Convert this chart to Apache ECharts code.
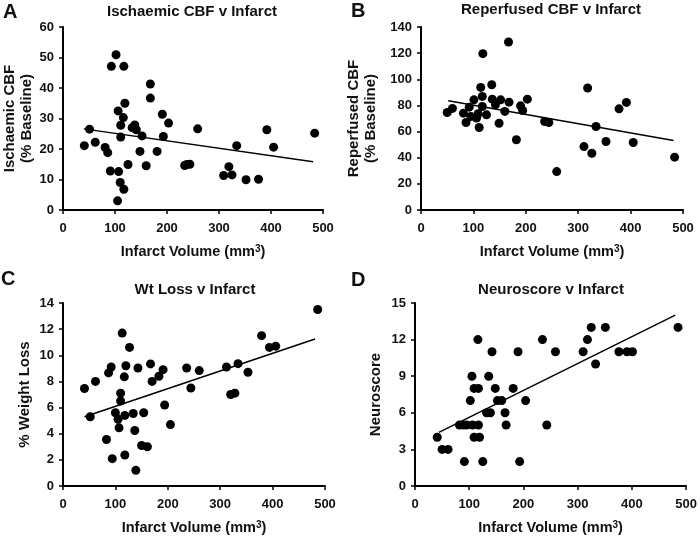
<!DOCTYPE html>
<html><head><meta charset="utf-8">
<script src="https://cdn.jsdelivr.net/npm/echarts@6/dist/echarts.min.js"></script>
<style>html,body{margin:0;padding:0;background:#fff}#c{width:700px;height:537px}</style>
</head><body><div id="c"></div>
<script>
// Panel A: Ischaemic CBF v Infarct
const volA = [41,51,62,81,86,91,93,102,105,107,106,111,111,110,116,117,117,119,125,133,138,141,148,152,160,168,168,181,191,193,203,234,238,244,259,309,319,325,334,352,376,392,405,484];
const ischCBF = [21.1,26.5,22.2,20.5,18.8,12.8,47.1,50.9,3,12.6,32.5,27.8,23.9,9,30.3,6.8,47.1,35,14.9,27,27.9,26.3,19.2,24.3,14.5,36.7,41.3,19.2,31.4,24.1,28.5,14.6,14.9,15,26.6,11.3,14.2,11.5,21.1,9.9,10.1,26.3,20.6,25.2];
const trendA = [[40,26.6],[481,15.8]];
// Panel B: Reperfused CBF v Infarct
const volB = [50,60,81,86,92,95,101,106,109,111,114,117,117,118,125,135,136,142,152,149,160,167,168,182,190,194,203,236,244,259,311,318,326,334,353,378,392,405,484];
const repCBF = [74.6,77.7,74.1,66.9,78.7,71.5,84.3,70.3,73.6,63.1,93.8,86.9,79.2,119.6,72.8,95.8,84.8,80.5,84.3,66.4,75.4,128.5,82.5,53.7,79.7,76.1,84.8,67.7,66.9,29.4,48.5,93.3,43.4,63.9,52.4,77.4,82.3,51.6,40.4];
const trendB = [[52,83.5],[482,53.2]];
// Panel C: Wt Loss v Infarct
const volC = [41,52,62,83,87,92,94,100,105,107,110,110,113,117,118,118,120,127,134,137,139,143,150,154,161,167,170,183,191,194,205,236,244,260,312,320,328,334,353,379,394,406,486];
const wtLoss = [7.46,5.3,8.0,3.56,8.65,9.1,2.09,5.6,5.1,4.45,6.5,7.1,11.7,8.35,5.4,2.37,9.2,10.6,5.55,4.25,1.2,9.03,3.1,5.6,3.0,9.34,8.0,8.4,8.9,6.2,4.7,9.03,7.5,8.83,9.1,7.0,7.1,9.36,8.7,11.5,10.6,10.7,13.5];
const trendC = [[41,5.3],[481,11.25]];
// Panel D: Neuroscore v Infarct
const volD = [41,50,61,82,89,91,95,102,105,106,109,109,116,117,117,119,125,132,136,139,142,148,152,160,166,168,181,190,193,204,235,243,259,310,318,325,333,351,376,391,401,485];
const neuro = [4,3,3,5,5,2,5,7,9,5,4,8,12,5,8,4,2,6,9,6,11,8,7,7,6,5,8,11,2,7,12,5,11,11,12,13,10,13,11,11,11,13];
const trendD = [[44,4.4],[480,14.0]];

const FONT = '"Liberation Sans", Arial, sans-serif';
const pairs = (xs, ys) => xs.map((x, i) => [x, ys[i]]);

function xAx(idx) {
  return {
    gridIndex: idx, type: 'value', min: 0, max: 500, interval: 100,
    name: 'Infarct Volume (mm{s|3})', nameLocation: 'middle', nameGap: 34,
    nameTextStyle: { fontFamily: FONT, fontWeight: 'bold', fontSize: 14.5, color: '#111',
      rich: { s: { fontFamily: FONT, fontWeight: 'bold', fontSize: 10, verticalAlign: 'top', color: '#111' } } },
    axisLine: { show: true, lineStyle: { color: '#000', width: 2 } },
    axisTick: { show: true, inside: false, length: 4, lineStyle: { color: '#000', width: 1.5 } },
    axisLabel: { fontFamily: FONT, fontWeight: 'bold', fontSize: 13, color: '#111', margin: 12 },
    splitLine: { show: false }
  };
}
function yAx(idx, max, interval, name, gap) {
  return {
    gridIndex: idx, type: 'value', min: 0, max: max, interval: interval,
    name: name, nameLocation: 'middle', nameGap: gap,
    nameTextStyle: { fontFamily: FONT, fontWeight: 'bold', fontSize: 15, color: '#111', lineHeight: 17 },
    axisLine: { show: true, lineStyle: { color: '#000', width: 2 } },
    axisTick: { show: true, inside: false, length: 4, lineStyle: { color: '#000', width: 1.5 } },
    axisLabel: { fontFamily: FONT, fontWeight: 'bold', fontSize: 13, color: '#111', margin: 9 },
    splitLine: { show: false }
  };
}
function scat(idx, data) {
  return { type: 'scatter', xAxisIndex: idx, yAxisIndex: idx, data: data, symbolSize: 9,
    itemStyle: { color: '#000', opacity: 1 }, silent: true, z: 3 };
}
function trend(idx, data) {
  return { type: 'line', xAxisIndex: idx, yAxisIndex: idx, data: data, showSymbol: false,
    lineStyle: { color: '#000', width: 1.5 }, silent: true, z: 2 };
}
function txt(t, x, y, size, align) {
  return { type: 'text', x: x, y: y, style: { text: t, font: 'bold ' + size + 'px ' + FONT,
    fill: '#111', align: align || 'center', verticalAlign: 'middle' } };
}

const chart = echarts.init(document.getElementById('c'), null, { renderer: 'canvas' });
chart.setOption({
  animation: false,
  backgroundColor: '#fff',
  grid: [
    { left: 61, top: 27, width: 262, height: 183 },
    { left: 421, top: 27, width: 262, height: 183 },
    { left: 63, top: 303, width: 262, height: 183 },
    { left: 415, top: 303, width: 274, height: 183 }
  ],
  xAxis: [xAx(0), xAx(1), xAx(2), xAx(3)],
  yAxis: [
    yAx(0, 60, 10, 'Ischaemic CBF\n(% Baseline)', 28),
    yAx(1, 140, 20, 'Reperfused CBF\n(% Baseline)', 42),
    yAx(2, 14, 2, '% Weight Loss', 30),
    yAx(3, 15, 3, 'Neuroscore', 31)
  ],
  series: [
    scat(0, pairs(volA, ischCBF)), trend(0, trendA),
    scat(1, pairs(volB, repCBF)), trend(1, trendB),
    scat(2, pairs(volC, wtLoss)), trend(2, trendC),
    scat(3, pairs(volD, neuro)), trend(3, trendD)
  ],
  graphic: [
    txt('A', 3, 12, 20, 'left'),
    txt('B', 351, 11, 20, 'left'),
    txt('C', 1, 279, 20, 'left'),
    txt('D', 351, 280, 20, 'left'),
    txt('Ischaemic CBF v Infarct', 192, 12, 15),
    txt('Reperfused CBF v Infarct', 551, 10, 15),
    txt('Wt Loss v Infarct', 195, 290, 15),
    txt('Neuroscore v Infarct', 551, 290, 15)
  ]
});
</script></body></html>
